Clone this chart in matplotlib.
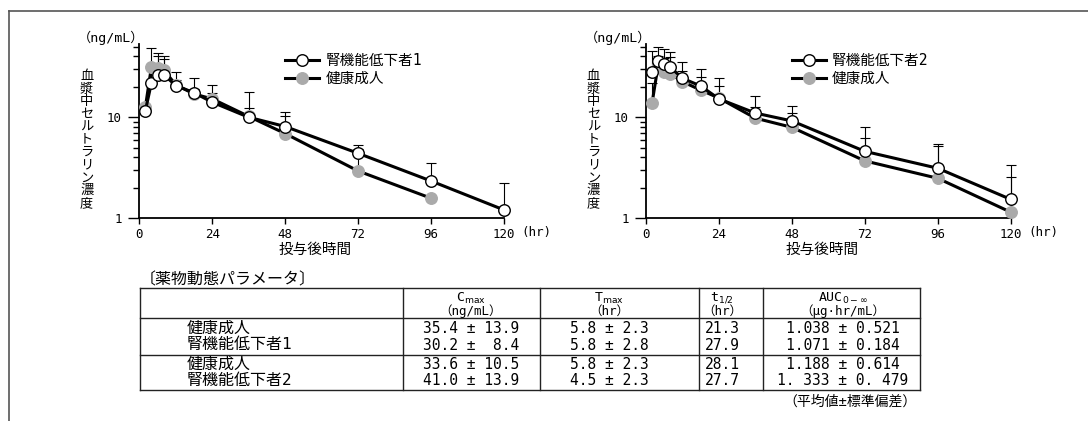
import matplotlib
matplotlib.use('Agg')
import matplotlib.pyplot as plt
import numpy as np
from matplotlib.ticker import LogLocator, NullFormatter, FixedLocator

plt.rcParams['font.family'] = ['DejaVu Sans Mono', 'Noto Sans CJK JP']

# sampling times (hr)
hours = [2, 4, 6, 8, 12, 18, 24, 36, 48, 72, 96, 120]

# left panel : renal impairment group 1 vs healthy adults
renal1 = [11.6, 22.0, 26.0, 26.5, 20.6, 17.5, 14.1, 10.0, 8.1, 4.4, 2.34, 1.21]
renal1_top = [11.6, 30.0, 40.5, 40.5, 27.9, 24.3, 20.9, 17.9, 11.4, 5.3, 3.55, 2.22]
healthy1 = [12.6, 31.7, 31.0, 29.4, 21.0, 17.0, 15.2, 10.2, 6.9, 2.94, 1.58]
healthy1_top = [12.6, 48.2, 43.0, 38.0, 23.5, 19.0, 17.5, 12.3, 10.2, 4.9, 1.58]

# right panel : renal impairment group 2 vs healthy adults
renal2 = [27.9, 36.4, 33.7, 31.3, 24.3, 20.4, 15.2, 11.0, 9.2, 4.6, 3.13, 1.54]
renal2_top = [45.7, 50.0, 47.1, 44.0, 35.1, 29.9, 24.7, 16.3, 12.8, 8.0, 5.44, 3.37]
healthy2 = [13.8, 33.0, 28.0, 27.0, 22.5, 18.6, 15.5, 9.8, 7.95, 3.7, 2.49, 1.15]
healthy2_top = [22.0, 40.0, 39.0, 39.3, 29.0, 25.0, 20.2, 12.6, 11.0, 6.3, 5.2, 2.55]

xticks = [0, 24, 48, 72, 96, 120]
yticks = [1, 10]
ylabel_jp = '血漿中セルトラリン濃度'
xlabel_jp = '投与後時間'
healthy_name = '健康成人'
renal_names = ['腎機能低下者1', '腎機能低下者2']

# pharmacokinetic parameter table
table_title = '〔薬物動態パラメータ〕'
col_top = [r'C$_{\rm max}$', r'T$_{\rm max}$', r't$_{1/2}$', r'AUC$_{0-\infty}$']
col_unit = ['（ng/mL）', '（hr）', '（hr）', '（μg·hr/mL）']
row_labels = ['健康成人', '腎機能低下者1', '健康成人', '腎機能低下者2']
cmax = ['35.4 ± 13.9', '30.2 ±  8.4', '33.6 ± 10.5', '41.0 ± 13.9']
tmax = ['5.8 ± 2.3', '5.8 ± 2.8', '5.8 ± 2.3', '4.5 ± 2.3']
thalf = ['21.3', '27.9', '28.1', '27.7']
auc = ['1.038 ± 0.521', '1.071 ± 0.184', '1.188 ± 0.614', '1. 333 ± 0. 479']
note = '（平均値±標準偏差）'

W, H = 1088, 421
fig = plt.figure(figsize=(W / 100, H / 100), dpi=100)

# pixel overlay for frame and table
bg = fig.add_axes([0, 0, 1, 1])
bg.set_xlim(0, W)
bg.set_ylim(H, 0)
bg.axis('off')
bg.plot([8.5, W], [11, 11], color='#555555', lw=1.2)
bg.plot([8.5, 8.5], [11, H], color='#555555', lw=1.2)

GRAY = '#aaaaaa'
Y1, YTOP = 218.3, 44.1


def panel(x0, renal, renal_top, healthy, healthy_top, renal_name):
    ax = fig.add_axes([x0 / W, 1 - Y1 / H, 364.7 / W, (Y1 - YTOP) / H])
    ax.set_yscale('log')
    ax.set_xlim(0, 120)
    ax.set_ylim(1, 53)
    ax.patch.set_alpha(0)
    th = hours[:len(healthy)]
    h = np.array(healthy)
    r = np.array(renal)
    ax.errorbar(th, h, yerr=[np.zeros(len(h)), np.array(healthy_top) - h], fmt='none',
                ecolor='k', elinewidth=0.8, capsize=3.6, capthick=0.8, zorder=1, clip_on=False)
    ax.errorbar(hours, r, yerr=[np.zeros(len(r)), np.array(renal_top) - r], fmt='none',
                ecolor='k', elinewidth=0.8, capsize=3.6, capthick=0.8, zorder=1, clip_on=False)
    lh, = ax.plot(th, h, '-o', color='k', lw=2.2, ms=8.3, mfc=GRAY, mec=GRAY, zorder=3,
                  label=healthy_name, clip_on=False)
    lr, = ax.plot(hours, r, '-o', color='k', lw=2.2, ms=8.3, mfc='white', mec='k', mew=1.0,
                  zorder=4, label=renal_name, clip_on=False)
    for s in ['top', 'right']:
        ax.spines[s].set_visible(False)
    for s in ['left', 'bottom']:
        ax.spines[s].set_linewidth(1.3)
    ax.set_xticks(xticks)
    ax.set_xticklabels([str(v) for v in xticks])
    ax.yaxis.set_major_locator(FixedLocator(yticks))
    ax.set_yticklabels([str(v) for v in yticks])
    ax.yaxis.set_minor_locator(LogLocator(base=10, subs=np.arange(2, 10)))
    ax.yaxis.set_minor_formatter(NullFormatter())
    ax.tick_params(axis='x', length=4, width=1, labelsize=9, pad=3)
    ax.tick_params(axis='y', which='major', length=8, width=1, labelsize=9, pad=4.5)
    ax.tick_params(axis='y', which='minor', length=4, width=1)
    ax.annotate('(hr)', xy=(1, 0), xycoords='axes fraction', xytext=(12.7, -9.9),
                textcoords='offset points', ha='left', va='center', fontsize=9)
    ax.legend(handles=[lr, lh], loc='center left', frameon=False, fontsize=10.5,
              bbox_to_anchor=((x0 + 146) / W, 1 - 69.5 / H), bbox_transform=fig.transFigure,
              borderpad=0, borderaxespad=0, handlelength=2.3, handletextpad=0.45,
              labelspacing=0.2)
    # axis captions
    bg.text(x0 - 61, 38.3, '（ng/mL）', fontsize=9.5, ha='left', va='center')
    for i, ch in enumerate(ylabel_jp):
        bg.text(x0 - 52.6, 76.4 + 12.7 * i, ch, fontsize=9.5, ha='center', va='center',
                family='Noto Sans CJK JP')
    bg.text(x0 + 176, 249, xlabel_jp, fontsize=10.5, ha='center', va='center')
    return ax


panel(139.3, renal1, renal1_top, healthy1, healthy1_top, renal_names[0])
panel(646.0, renal2, renal2_top, healthy2, healthy2_top, renal_names[1])

# table
bg.text(140, 280, table_title, fontsize=11.5, ha='left', va='center')
TL, TR, TT, TB = 140, 920, 288.3, 390
lk = dict(color='#222222', lw=1.0)
for yy in [TT, 318.3, 355, TB]:
    bg.plot([TL, TR], [yy, yy], **lk)
for xx in [TL, 402.7, 540, 699.3, 763.3, TR]:
    bg.plot([xx, xx], [TT, TB], **lk)

col_x = [471, 609, 722, 843]
for cx, top, unit in zip(col_x, col_top, col_unit):
    bg.text(cx, 298.0, top, fontsize=9.5, ha='center', va='center')
    bg.text(cx, 311.0, unit, fontsize=9, ha='center', va='center')

row_y = [328.3, 345, 364.5, 380.7]
for i, ry in enumerate(row_y):
    bg.text(186.7, ry, row_labels[i], fontsize=11.5, ha='left', va='center')
    for cx, vals in zip(col_x, [cmax, tmax, thalf, auc]):
        bg.text(cx, ry, vals[i], fontsize=10.5, ha='center', va='center')

bg.text(917, 401.7, note, fontsize=10, ha='right', va='center')

fig.savefig('out.png', dpi=100)
